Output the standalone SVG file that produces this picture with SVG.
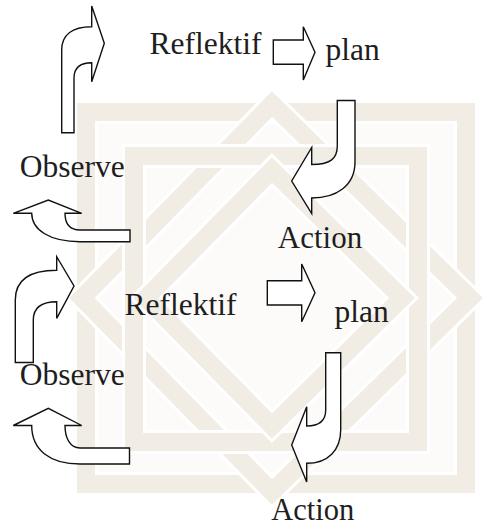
<svg xmlns="http://www.w3.org/2000/svg" width="494" height="526" viewBox="0 0 494 526">
  <style>
    .lbl { font-family: "Liberation Serif", "Times New Roman", serif; font-size: 31.5px; fill: #1e1e1e; }
    .arw { fill: #ffffff; stroke: #111111; stroke-width: 1.4; stroke-linejoin: miter; }
    .band-gap { fill: none; stroke: #ffffff; stroke-width: 24; stroke-linejoin: miter; }
    .band { fill: none; stroke: #eee8dc; stroke-width: 18; stroke-linejoin: miter; }
  </style>
  <defs>
    <path id="sqOuter" d="M86,112 H466 V484 H86 Z"/>
    <path id="dmOuter" d="M272,104 L470,298 L272,492 L82,298 Z"/>
    <path id="sqInner" d="M134,156 H418 V442 H134 Z"/>
    <path id="dmInner" d="M272,170 L402,298 L272,426 L146,298 Z"/>
  </defs>
  <rect width="494" height="526" fill="#ffffff"/>

  <!-- faint interlaced emblem in the background -->
  <g id="watermark" opacity="0.75">
    <rect x="76" y="102" width="400" height="392" fill="#fbfaf7"/>
    <use href="#sqOuter" class="band-gap"/><use href="#sqOuter" class="band"/>
    <use href="#dmOuter" class="band-gap"/><use href="#dmOuter" class="band"/>
    <use href="#sqInner" class="band-gap"/><use href="#sqInner" class="band"/>
    <use href="#dmInner" class="band-gap"/><use href="#dmInner" class="band"/>
  </g>

  <!-- block arrows linking the cycle stages -->
  <g id="connectors">
    <path id="arrow-up-1" class="arw" d="M61.7,132.7 L61.7,50 C61.7,35 72,26.7 91.7,26.7 L91.7,6 L104.3,43.3 L91.7,81.7 L91.7,62.7 C80,62.7 74,68 74,78 L74,132.7 Z"/>
    <path id="arrow-right-1" class="arw" d="M273.3,40 L303.3,40 L303.3,26.7 L315,52.3 L303.3,80 L303.3,64.3 L273.3,64.3 Z"/>
    <path id="arrow-down-1" class="arw" d="M337.3,100.5 L355,100.5 L355,162 C355,186 336,198 311.7,198 L311.7,213.5 L291.7,181 L311.7,147.5 L311.7,164.5 C330,164.5 337.3,159 337.3,146 Z"/>
    <path id="arrow-back-1" class="arw" d="M130,230 L130,241.7 L80,241.7 C50,241.7 31.7,230 31.7,213.3 L13.3,213.3 L48.3,200 L81.7,213.3 L65,213.3 C65,224 70,230 80,230 Z"/>
    <path id="arrow-up-2" class="arw" d="M15.3,362.5 L15.3,300 C15.3,280 30,270.3 56.7,270.3 L56.7,256.7 L74,286 L56.7,318.3 L56.7,301.7 C42,301.7 33.3,307 33.3,320 L33.3,362.5 Z"/>
    <path id="arrow-right-2" class="arw" d="M267.3,280.7 L301.7,280.7 L301.7,264 L315,292.7 L301.7,321.7 L301.7,305 L267.3,305 Z"/>
    <path id="arrow-down-2" class="arw" d="M325.7,352.7 L340.7,352.7 L340.7,430 C340.7,450 328,463.3 306.7,463.3 L306.7,482 L291.7,445 L306.7,406.7 L306.7,426 C320,426 325.7,420 325.7,410 Z"/>
    <path id="arrow-back-2" class="arw" d="M129.5,448 L129.5,464 L80,464 C50,464 31.7,450 31.7,425.5 L13.3,425.5 L48.3,408.3 L81.7,425.5 L65,425.5 C65,438 70,448 80,448 Z"/>
  </g>

  <!-- first cycle -->
  <g id="reflektif-1"><text class="lbl" x="149.5" y="53.5">Reflektif</text></g>
  <g id="plan-1"><text class="lbl" x="325.5" y="59.5">plan</text></g>
  <g id="action-1"><text class="lbl" x="277.8" y="248.3" style="font-size:31px">Action</text></g>
  <g id="observe-1"><text class="lbl" x="19.8" y="176.7">Observe</text></g>

  <!-- second cycle -->
  <g id="reflektif-2"><text class="lbl" x="124.5" y="315">Reflektif</text></g>
  <g id="plan-2"><text class="lbl" x="334.5" y="321.7">plan</text></g>
  <g id="observe-2"><text class="lbl" x="19.8" y="385">Observe</text></g>
  <g id="action-2"><text class="lbl" x="271.2" y="519.5" style="font-size:30.5px">Action</text></g>
</svg>
